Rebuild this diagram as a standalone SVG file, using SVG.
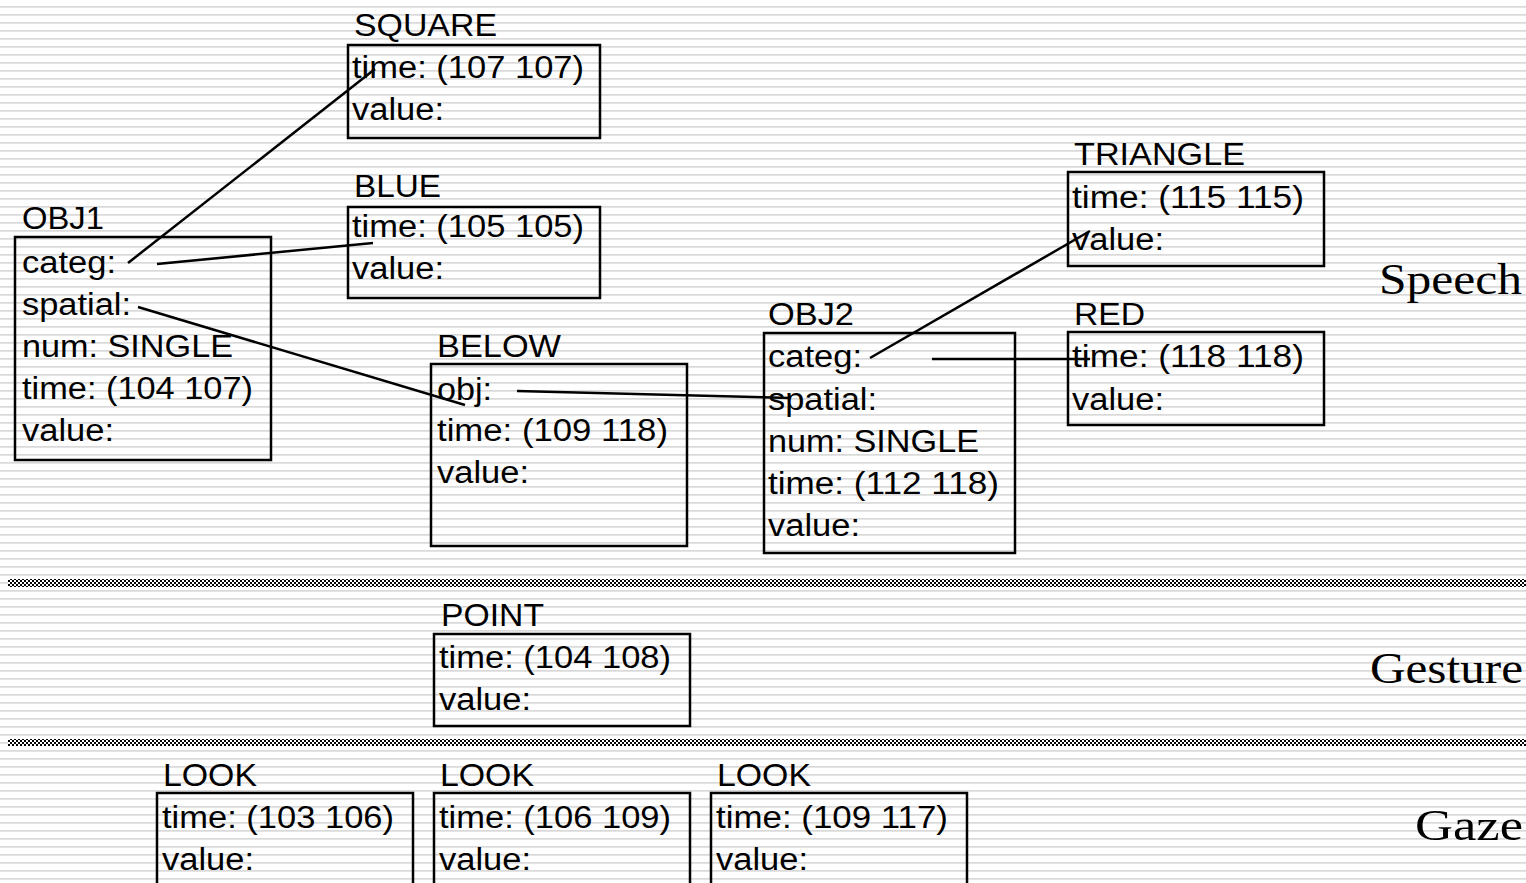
<svg xmlns="http://www.w3.org/2000/svg" width="1526" height="883" viewBox="0 0 1526 883">
<defs>
<pattern id="bgLines" patternUnits="userSpaceOnUse" width="8" height="8">
<rect x="0" y="6" width="8" height="1.7" fill="#d9d9d9"/>
</pattern>
<pattern id="checker" patternUnits="userSpaceOnUse" width="4" height="4">
<rect x="0" y="0" width="4" height="4" fill="#ffffff" shape-rendering="crispEdges"/>
<rect x="0" y="0" width="2" height="2" fill="#000000" shape-rendering="crispEdges"/>
<rect x="2" y="2" width="2" height="2" fill="#000000" shape-rendering="crispEdges"/>
</pattern>
<style>
.box{fill:none;stroke:#000;stroke-width:2.5}
.t{font-family:"Liberation Sans",Arial,sans-serif;font-size:31px;fill:#000}
.lane{font-family:"Liberation Serif","Times New Roman",serif;font-size:44px;fill:#000}
.conn line{stroke:#000;stroke-width:2.5;fill:none}
</style>
</defs>
<rect x="0" y="0" width="1526" height="883" fill="#ffffff"/>
<rect x="0" y="0" width="1526" height="883" fill="url(#bgLines)"/>
<rect id="sep1" x="8" y="579" width="1518" height="8" fill="url(#checker)"/>
<rect id="sep2" x="8" y="739" width="1518" height="7" fill="url(#checker)"/>

<text class="lane" x="1379" y="294" textLength="143" lengthAdjust="spacingAndGlyphs">Speech</text>
<text class="lane" x="1370" y="683" textLength="153" lengthAdjust="spacingAndGlyphs">Gesture</text>
<text class="lane" x="1415" y="840" textLength="108" lengthAdjust="spacingAndGlyphs">Gaze</text>

<g id="square">
<rect class="box" x="348" y="45" width="252" height="93"/>
<text class="t" x="354" y="36" textLength="143" lengthAdjust="spacingAndGlyphs">SQUARE</text>
<text class="t" x="352" y="78" textLength="232" lengthAdjust="spacingAndGlyphs">time: (107 107)</text>
<text class="t" x="352" y="120" textLength="92" lengthAdjust="spacingAndGlyphs">value:</text>
</g>
<g id="blue">
<rect class="box" x="348" y="207" width="252" height="91"/>
<text class="t" x="354" y="197" textLength="87" lengthAdjust="spacingAndGlyphs">BLUE</text>
<text class="t" x="352" y="237" textLength="232" lengthAdjust="spacingAndGlyphs">time: (105 105)</text>
<text class="t" x="352" y="279" textLength="92" lengthAdjust="spacingAndGlyphs">value:</text>
</g>
<g id="obj1">
<rect class="box" x="15" y="237" width="256" height="223"/>
<text class="t" x="22" y="229" textLength="82" lengthAdjust="spacingAndGlyphs">OBJ1</text>
<text class="t" x="22" y="273" textLength="94" lengthAdjust="spacingAndGlyphs">categ:</text>
<text class="t" x="22" y="315" textLength="109" lengthAdjust="spacingAndGlyphs">spatial:</text>
<text class="t" x="22" y="357" textLength="211" lengthAdjust="spacingAndGlyphs">num: SINGLE</text>
<text class="t" x="22" y="399" textLength="231" lengthAdjust="spacingAndGlyphs">time: (104 107)</text>
<text class="t" x="22" y="441" textLength="92" lengthAdjust="spacingAndGlyphs">value:</text>
</g>
<g id="below">
<rect class="box" x="431" y="364" width="256" height="182"/>
<text class="t" x="437" y="357" textLength="124" lengthAdjust="spacingAndGlyphs">BELOW</text>
<text class="t" x="437" y="400" textLength="55" lengthAdjust="spacingAndGlyphs">obj:</text>
<text class="t" x="437" y="441" textLength="231" lengthAdjust="spacingAndGlyphs">time: (109 118)</text>
<text class="t" x="437" y="483" textLength="92" lengthAdjust="spacingAndGlyphs">value:</text>
</g>
<g id="obj2">
<rect class="box" x="764" y="333" width="251" height="220"/>
<text class="t" x="768" y="325" textLength="86" lengthAdjust="spacingAndGlyphs">OBJ2</text>
<text class="t" x="768" y="367" textLength="94" lengthAdjust="spacingAndGlyphs">categ:</text>
<text class="t" x="768" y="410" textLength="109" lengthAdjust="spacingAndGlyphs">spatial:</text>
<text class="t" x="768" y="452" textLength="211" lengthAdjust="spacingAndGlyphs">num: SINGLE</text>
<text class="t" x="768" y="494" textLength="231" lengthAdjust="spacingAndGlyphs">time: (112 118)</text>
<text class="t" x="768" y="536" textLength="92" lengthAdjust="spacingAndGlyphs">value:</text>
</g>
<g id="triangle">
<rect class="box" x="1068" y="172" width="256" height="94"/>
<text class="t" x="1074" y="165" textLength="171" lengthAdjust="spacingAndGlyphs">TRIANGLE</text>
<text class="t" x="1072" y="208" textLength="232" lengthAdjust="spacingAndGlyphs">time: (115 115)</text>
<text class="t" x="1072" y="250" textLength="92" lengthAdjust="spacingAndGlyphs">value:</text>
</g>
<g id="red">
<rect class="box" x="1068" y="332" width="256" height="93"/>
<text class="t" x="1074" y="325" textLength="71" lengthAdjust="spacingAndGlyphs">RED</text>
<text class="t" x="1072" y="367" textLength="232" lengthAdjust="spacingAndGlyphs">time: (118 118)</text>
<text class="t" x="1072" y="410" textLength="92" lengthAdjust="spacingAndGlyphs">value:</text>
</g>
<g id="point">
<rect class="box" x="434" y="634" width="256" height="92"/>
<text class="t" x="441" y="626" textLength="103" lengthAdjust="spacingAndGlyphs">POINT</text>
<text class="t" x="439" y="668" textLength="232" lengthAdjust="spacingAndGlyphs">time: (104 108)</text>
<text class="t" x="439" y="710" textLength="92" lengthAdjust="spacingAndGlyphs">value:</text>
</g>
<g id="look1">
<rect class="box" x="157" y="793" width="256" height="110"/>
<text class="t" x="163" y="786" textLength="94" lengthAdjust="spacingAndGlyphs">LOOK</text>
<text class="t" x="162" y="828" textLength="232" lengthAdjust="spacingAndGlyphs">time: (103 106)</text>
<text class="t" x="162" y="870" textLength="92" lengthAdjust="spacingAndGlyphs">value:</text>
</g>
<g id="look2">
<rect class="box" x="434" y="793" width="256" height="110"/>
<text class="t" x="440" y="786" textLength="94" lengthAdjust="spacingAndGlyphs">LOOK</text>
<text class="t" x="439" y="828" textLength="232" lengthAdjust="spacingAndGlyphs">time: (106 109)</text>
<text class="t" x="439" y="870" textLength="92" lengthAdjust="spacingAndGlyphs">value:</text>
</g>
<g id="look3">
<rect class="box" x="711" y="793" width="256" height="110"/>
<text class="t" x="717" y="786" textLength="94" lengthAdjust="spacingAndGlyphs">LOOK</text>
<text class="t" x="716" y="828" textLength="232" lengthAdjust="spacingAndGlyphs">time: (109 117)</text>
<text class="t" x="716" y="870" textLength="92" lengthAdjust="spacingAndGlyphs">value:</text>
</g>

<g id="connectors" class="conn">
<line x1="128" y1="263" x2="375" y2="69"/>
<line x1="157" y1="264" x2="373" y2="243"/>
<line x1="138" y1="307" x2="465" y2="405"/>
<line x1="517" y1="391" x2="790" y2="398"/>
<line x1="870" y1="358" x2="1090" y2="231"/>
<line x1="932" y1="359" x2="1090" y2="359"/>
</g>
</svg>
